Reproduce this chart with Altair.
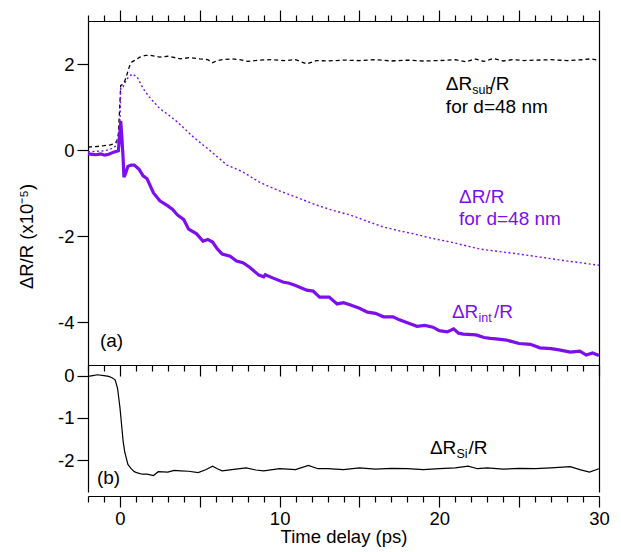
import altair as alt
import pandas as pd

# ---------------- data ----------------
# panel (a): dR_sub/R (black dashed)
t_sub = [-2, -1.5, -1, -0.6, -0.4, -0.2, -0.1, 0, 0.05, 0.15, 0.3, 0.45, 0.6, 0.75, 1.0, 1.25,
         1.6, 1.9, 2.5, 3.0, 3.8, 4.4, 5.0, 5.5, 5.8, 6.1, 6.4, 7.0, 7.5, 8.0, 8.7, 9.5, 10.3,
         11.0, 11.7, 12.3, 13.0, 14.0, 15.0, 16.0, 17.0, 18.0, 19.0, 20.0, 21.0, 21.7, 22.2,
         22.8, 23.4, 24.0, 24.6, 25.3, 26.0, 27.0, 28.0, 29.0, 29.5, 30.0]
v_sub = [0.07, 0.08, 0.1, 0.12, 0.14, 0.2, 0.37, 1.1, 1.5, 1.52, 1.6, 1.77, 1.95, 2.05, 2.1, 2.16,
         2.2, 2.2, 2.16, 2.18, 2.12, 2.15, 2.12, 2.1, 2.03, 2.08, 2.1, 2.12, 2.1, 2.06, 2.09, 2.1, 2.08,
         2.1, 2.0, 2.08, 2.07, 2.09, 2.08, 2.1, 2.07, 2.09, 2.07, 2.08, 2.1, 2.05, 2.12,
         2.06, 2.13, 2.07, 2.1, 2.08, 2.09, 2.1, 2.08, 2.1, 2.12, 2.08]

# panel (a): dR/R for d=48 nm (purple dotted)
t_tot = [-2, -1.5, -1, -0.6, -0.3, -0.1, 0, 0.05, 0.2, 0.4, 0.6, 0.8, 1.1, 1.45, 1.8, 2.5, 3.1,
         3.6, 4.6, 5.6, 6.7, 7.7, 8.7, 9.4, 10.2, 11.2, 12.3, 13.3, 14.4, 15.5, 16.5, 17.5, 18.4,
         19.6, 20.7, 21.6, 22.5, 23.7, 25.0, 26.3, 27.6, 28.8, 30.0]
v_tot = [-0.04, -0.03, -0.02, 0.02, 0.08, 0.25, 0.6, 1.45, 1.47, 1.63, 1.72, 1.77, 1.68, 1.43, 1.25,
         0.96, 0.8, 0.65, 0.3, 0.0, -0.35, -0.51, -0.74, -0.86, -0.98, -1.12, -1.28, -1.4, -1.51,
         -1.66, -1.79, -1.88, -1.95, -2.06, -2.14, -2.22, -2.3, -2.36, -2.42, -2.49, -2.56, -2.62, -2.68]

# panel (a): dR_int/R (purple thick)
t_int = [-2, -1.7, -1.5, -1.2, -0.95, -0.7, -0.4, -0.1, 0, 0.05, 0.12, 0.2, 0.25, 0.35, 0.5, 0.7,
         0.9, 1.2, 1.45, 1.7, 2.1, 2.5, 3.0, 3.3, 3.6, 4.0, 4.3, 4.8, 5.2, 5.5, 5.8, 6.1, 6.4, 6.9,
         7.3, 7.7, 8.1, 8.7, 9.0, 9.1, 9.6, 10.2, 10.6, 11.0, 11.7, 12.1, 12.5, 13.1, 13.6, 14.0,
         14.4, 15.0, 15.5, 16.0, 16.5, 17.1, 17.5, 18.0, 18.6, 19.1, 19.6, 20.0, 20.5, 20.9, 21.2,
         21.5, 22.3, 22.8, 23.2, 23.7, 24.2, 25.0, 25.7, 26.3, 27.0, 27.5, 28.2, 28.8, 29.2, 29.6, 30.0]
v_int = [-0.09, -0.1, -0.11, -0.09, -0.12, -0.1, -0.05, -0.02, 0.4, 0.67, 0.3, -0.2, -0.63, -0.55,
         -0.38, -0.35, -0.35, -0.45, -0.6, -0.67, -1.0, -1.18, -1.3, -1.38, -1.51, -1.62, -1.84,
         -1.95, -2.12, -2.08, -2.14, -2.3, -2.42, -2.47, -2.58, -2.62, -2.72, -2.91, -2.95, -2.9,
         -2.98, -3.07, -3.1, -3.15, -3.26, -3.28, -3.42, -3.42, -3.58, -3.55, -3.6, -3.68, -3.77,
         -3.8, -3.88, -3.88, -3.95, -4.02, -4.1, -4.08, -4.12, -4.2, -4.23, -4.16, -4.26, -4.28,
         -4.3, -4.36, -4.38, -4.4, -4.42, -4.5, -4.52, -4.6, -4.62, -4.65, -4.7, -4.68, -4.77, -4.72, -4.78]

# panel (b): dR_Si/R (black)
t_si = [-2, -1.7, -1.4, -1.0, -0.7, -0.5, -0.3, -0.15, 0, 0.1, 0.2, 0.3, 0.5, 0.7, 0.9, 1.1, 1.4,
        1.7, 2.1, 2.4, 3.0, 3.4, 3.8, 4.3, 4.9, 5.4, 5.8, 6.1, 6.4, 7.0, 7.9, 8.5, 9.0, 10.0, 11.0,
        11.8, 12.4, 13.0, 14.0, 15.0, 16.0, 17.0, 18.0, 19.0, 20.0, 21.0, 21.8, 22.4, 23.0, 24.0,
        25.0, 26.0, 27.0, 28.2, 28.8, 29.4, 30.0]
v_si = [-0.02, 0.0, 0.02, 0.0, -0.02, -0.05, -0.1, -0.3, -0.75, -1.15, -1.55, -1.8, -2.1, -2.2,
        -2.27, -2.3, -2.33, -2.33, -2.36, -2.27, -2.28, -2.24, -2.25, -2.26, -2.29, -2.22, -2.14,
        -2.2, -2.25, -2.22, -2.18, -2.23, -2.25, -2.2, -2.22, -2.12, -2.2, -2.2, -2.22, -2.18,
        -2.21, -2.19, -2.2, -2.22, -2.2, -2.18, -2.14, -2.2, -2.18, -2.21, -2.19, -2.2, -2.18,
        -2.15, -2.22, -2.28, -2.2]

x_ticks = list(range(-2, 31))
y_ticks_a = [-4, -2, 0, 2]
y_ticks_b = [0, -1, -2]

# ---------------- styling ----------------
FONT = "Liberation Sans"
PURPLE = "#7C0EF0"
W = 511

xs = alt.Scale(domain=[-2, 30], nice=False, zero=False)
ys_a = alt.Scale(domain=[-5, 3], nice=False, zero=False)
ys_b = alt.Scale(domain=[-2.75, 0.25], nice=False, zero=False)

tick_cond = {"condition": {"test": "datum.value % 5 === 0", "value": 11}, "value": 6}
x_lab = "datum.value % 10 === 0 ? '' + datum.value : ''"


def df(t, v):
    return pd.DataFrame({"t": t, "v": v})


def txt(x, y, s, color, size, yscale, dx=0, dy=0):
    d = pd.DataFrame({"x": [x], "y": [y], "s": [s]})
    return alt.Chart(d).mark_text(
        align="left", baseline="alphabetic", font=FONT, fontSize=size, color=color, dx=dx, dy=dy
    ).encode(
        x=alt.X("x:Q", scale=xs, axis=None),
        y=alt.Y("y:Q", scale=yscale, axis=None),
        text="s:N",
    )


# ---------- panel (a) ----------
sub_line = alt.Chart(df(t_sub, v_sub)).mark_line(
    color="black", strokeWidth=1.3, strokeDash=[4, 3]
).encode(
    x=alt.X("t:Q", scale=xs, axis=alt.Axis(orient="bottom", values=x_ticks, tickSize=tick_cond,
                                           labels=False, title=None)),
    y=alt.Y("v:Q", scale=ys_a, axis=alt.Axis(orient="left", values=y_ticks_a, tickSize=11,
                                             labelExpr="'' + datum.value", labelPadding=3,
                                             labelFlush=False,
                                             title="ΔR/R (x10⁻⁵)", titleX=-62, titleY=215,
                                             titleBaseline="middle", titleAlign="center")),
)
tot_line = alt.Chart(df(t_tot, v_tot)).mark_line(
    color=PURPLE, strokeWidth=1.4, strokeDash=[2, 2.5]
).encode(
    x=alt.X("t:Q", scale=xs, axis=alt.Axis(orient="top", values=x_ticks, tickSize=tick_cond,
                                           labels=False, title=None)),
    y=alt.Y("v:Q", scale=ys_a, axis=alt.Axis(orient="right", ticks=False, labels=False, title=None)),
)
int_line = alt.Chart(df(t_int, v_int)).mark_line(
    color=PURPLE, strokeWidth=3.2
).encode(
    x=alt.X("t:Q", scale=xs, axis=None),
    y=alt.Y("v:Q", scale=ys_a, axis=None),
)

FS = 19
SS = 12.5
labels_a = [
    txt(20.41, 1.4, "ΔR", "black", FS, ys_a),
    txt(20.41, 1.4, "sub", "black", SS, ys_a, dx=26.5, dy=4),
    txt(20.41, 1.4, "/R", "black", FS, ys_a, dx=44.5),
    txt(20.41, 0.86, "for d=48 nm", "black", FS, ys_a),
    txt(21.23, -1.24, "ΔR/R", PURPLE, FS, ys_a),
    txt(21.23, -1.74, "for d=48 nm", PURPLE, FS, ys_a),
    txt(20.79, -3.91, "ΔR", PURPLE, FS, ys_a),
    txt(20.79, -3.91, "int", PURPLE, SS, ys_a, dx=26.5, dy=4),
    txt(20.79, -3.91, "/R", PURPLE, FS, ys_a, dx=42),
    txt(-1.25, -4.58, "(a)", "black", FS, ys_a),
]

panel_a = alt.layer(sub_line, tot_line, int_line, *labels_a).resolve_axis(
    x="independent", y="independent"
).properties(width=W, height=344)

# ---------- panel (b) ----------
si_line = alt.Chart(df(t_si, v_si)).mark_line(color="black", strokeWidth=1.2).encode(
    x=alt.X("t:Q", scale=xs, axis=alt.Axis(orient="bottom", values=x_ticks, tickSize=tick_cond,
                                           labelExpr=x_lab, offset=4, labelPadding=2,
                                           labelFlush=False,
                                           title="Time delay (ps)", titlePadding=0)),
    y=alt.Y("v:Q", scale=ys_b, axis=alt.Axis(orient="left", values=y_ticks_b, tickSize=11,
                                             labelExpr="'' + datum.value", labelPadding=3,
                                             labelFlush=False, title=None)),
)
frame_b = alt.Chart(df(t_si, v_si)).mark_line(opacity=0).encode(
    x=alt.X("t:Q", scale=xs, axis=None),
    y=alt.Y("v:Q", scale=ys_b, axis=alt.Axis(orient="right", ticks=False, labels=False, title=None)),
)
labels_b = [
    txt(19.41, -1.85, "ΔR", "black", FS, ys_b),
    txt(19.41, -1.85, "Si", "black", SS, ys_b, dx=26.5, dy=4),
    txt(19.41, -1.85, "/R", "black", FS, ys_b, dx=38.5),
    txt(-1.44, -2.56, "(b)", "black", FS, ys_b),
]
panel_b = alt.layer(si_line, frame_b, *labels_b).resolve_axis(
    x="independent", y="independent"
).properties(width=W, height=127)

chart = alt.vconcat(panel_a, panel_b, spacing=0, bounds="flush").properties(
    padding={"left": 8, "top": 0, "right": 0, "bottom": 0}
).configure_view(stroke="transparent").configure_axis(
    labelFont=FONT, titleFont=FONT, labelFontSize=18.5, titleFontSize=18.5,
    titleFontWeight="normal", labelColor="black", titleColor="black",
    domainColor="black", tickColor="black", domainWidth=1.2, tickWidth=1.2, grid=False,
)

chart.save("out.html", embed_options={"renderer": "svg", "actions": False})
